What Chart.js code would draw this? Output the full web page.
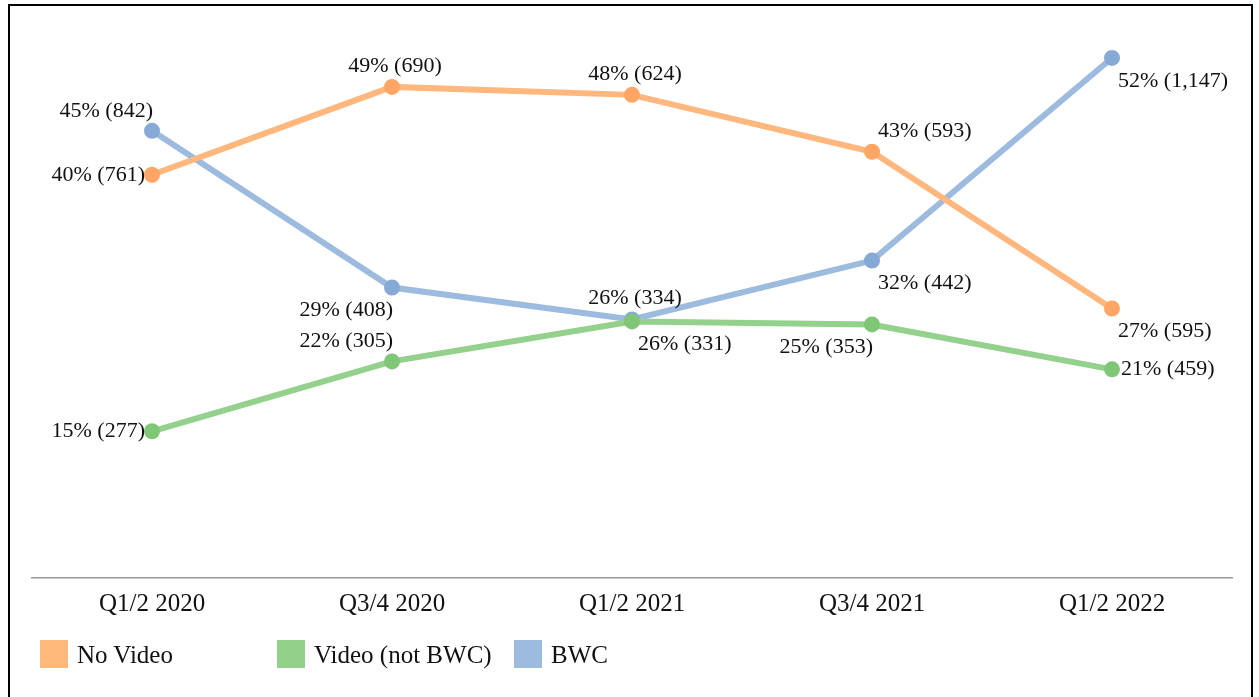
<!DOCTYPE html>
<html>
<head>
<meta charset="utf-8">
<script src="https://cdn.jsdelivr.net/npm/chart.js@4"></script>
<style>
  html, body { margin: 0; padding: 0; background: #fff; }
  #wrap { position: relative; width: 1259px; height: 697px; overflow: hidden; }
  #frame { position: absolute; left: 8px; top: 4px; width: 1245px; height: 720px; border: 2px solid #000; box-sizing: border-box; pointer-events: none; }
  canvas { position: absolute; left: 0; top: 0; }
  #legend { position: absolute; left: 40px; top: 640px; height: 28px; font-family: "Liberation Serif", serif; font-size: 25px; color: #111; }
  .item { position: absolute; top: 0; height: 28px; white-space: nowrap; }
  .box { position: absolute; left: 0; top: 0; width: 28px; height: 28px; }
  .txt { position: absolute; left: 37px; top: 50%; transform: translateY(-46%); }
</style>
</head>
<body>
<div id="wrap">
  <canvas id="c" width="1259" height="697"></canvas>
  <div id="frame"></div>
  <div id="legend"></div>
</div>
<script>
const categories = ["Q1/2 2020", "Q3/4 2020", "Q1/2 2021", "Q3/4 2021", "Q1/2 2022"];
const seriesNames = ["No Video", "Video (not BWC)", "BWC"];
const noVideoPct = [40.4, 49.2, 48.4, 42.7, 27.0];
const videoPct   = [14.7, 21.7, 25.7, 25.4, 20.9];
const bwcPct     = [44.8, 29.1, 25.9, 31.8, 52.1];
const noVideoCount = [761, 690, 624, 593, 595];
const videoCount   = [277, 305, 331, 353, 459];
const bwcCount     = [842, 408, 334, 442, 1147];

const lineColors  = ["#FFB77E", "#94D18C", "#9DBADF"];
const pointColors = ["#FFA666", "#7FC777", "#87A9D6"];
const legendColors = ["#FFB97C", "#93D18B", "#9DBBDF"];
const labelPos = [
  ["left", "top", "top", "topright", "bottomright"],
  ["left", "topleft", "bottomright", "bottomleft", "right"],
  ["topleft", "bottomleft", "top", "bottomright", "bottomright"]
];
const counts = [noVideoCount, videoCount, bwcCount];
const values = [noVideoPct, videoPct, bwcPct];

const labelPlugin = {
  id: "pointLabels",
  afterDatasetsDraw(chart) {
    const ctx = chart.ctx;
    ctx.save();
    ctx.font = "22px 'Liberation Serif', serif";
    ctx.fillStyle = "#111";
    chart.data.datasets.forEach((ds, di) => {
      const meta = chart.getDatasetMeta(di);
      meta.data.forEach((pt, i) => {
        const txt = Math.round(ds.data[i]) + "% (" + counts[di][i].toLocaleString("en-US") + ")";
        const p = labelPos[di][i];
        let x = pt.x, y = pt.y, align = "center";
        if (p === "left") { align = "right"; x -= 7; }
        else if (p === "right") { align = "left"; x += 9; }
        else if (p === "top") { y -= 21; x += 3; }
        else if (p === "topleft") { align = "right"; x += 1; y -= 20; }
        else if (p === "topright") { align = "left"; x += 6; y -= 21; }
        else if (p === "bottomleft") { align = "right"; x += 1; y += 23; }
        else if (p === "bottomright") { align = "left"; x += 6; y += 23; }
        ctx.textAlign = align;
        ctx.textBaseline = "middle";
        ctx.fillText(txt, x, y);
      });
    });
    ctx.restore();
  }
};

const chart = new Chart(document.getElementById("c"), {
  type: "line",
  data: {
    labels: categories,
    datasets: values.map((v, i) => ({
      label: seriesNames[i],
      data: v,
      borderColor: lineColors[i],
      backgroundColor: pointColors[i],
      pointBackgroundColor: pointColors[i],
      pointBorderColor: pointColors[i],
      pointRadius: 5,
      borderWidth: 6,
      tension: 0,
      fill: false
    }))
  },
  options: {
    responsive: false,
    animation: false,
    events: [],
    layout: { padding: { left: 32, right: 27, top: 19, bottom: 67 } },
    plugins: { legend: { display: false }, tooltip: { enabled: false } },
    scales: {
      x: {
        offset: true,
        grid: { display: false, drawTicks: false },
        border: { display: true, color: "#9a9a9a", width: 1.5 },
        ticks: { color: "#111", padding: 11, font: { family: "'Liberation Serif', serif", size: 25 } }
      },
      y: {
        display: false,
        min: 0,
        max: 56
      }
    }
  },
  plugins: [labelPlugin]
});

const leg = document.getElementById("legend");
chart.data.datasets.forEach((ds, i) => {
  const it = document.createElement("div");
  it.className = "item";
  it.style.left = (i * 237) + "px";
  const b = document.createElement("div");
  b.className = "box";
  b.style.background = legendColors[i];
  const t = document.createElement("span");
  t.className = "txt";
  t.textContent = ds.label;
  it.appendChild(b); it.appendChild(t);
  leg.appendChild(it);
});
</script>
</body>
</html>
